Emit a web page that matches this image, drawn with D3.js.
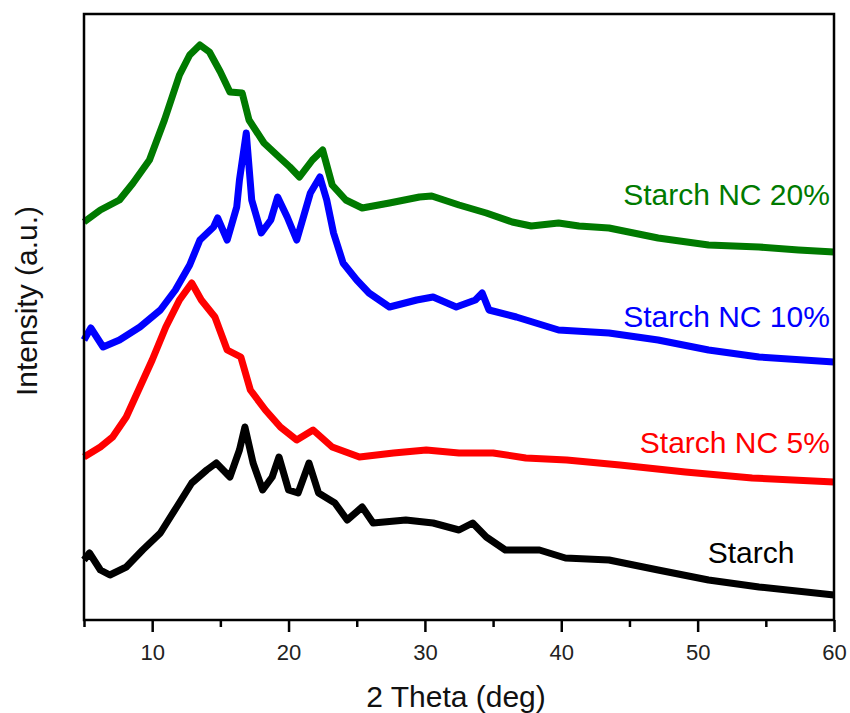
<!DOCTYPE html>
<html>
<head>
<meta charset="utf-8">
<script src="https://cdn.jsdelivr.net/npm/d3@7"></script>
<style>
    body { margin: 0; background: #fff; }
    svg { font-family: Arial, "Liberation Sans", sans-serif; }
</style>
</head>
<body>
<div id="chart"></div>
<script>
// 2 theta (deg) and intensity (a.u.).
const starch = [
    [5.0, 62], [5.4, 69], [6.2, 52], [6.9, 47], [8.1, 55], [9.3, 72],
    [10.6, 89], [11.8, 115], [12.9, 139], [14.0, 152], [14.7, 159],
    [15.7, 145], [16.4, 172], [16.8, 195], [17.4, 159], [18.1, 132],
    [18.8, 145], [19.3, 165], [20.0, 132], [20.7, 129], [21.5, 159],
    [22.2, 129], [23.4, 119], [24.3, 102], [25.4, 115], [26.2, 99],
    [28.6, 102], [30.6, 99], [32.5, 92], [33.5, 99], [34.5, 85],
    [35.9, 72], [38.4, 72], [40.3, 64], [43.5, 62], [47.1, 52],
    [50.8, 42], [54.5, 35], [60.0, 27]
];

const nc5 = [
    [5.0, 165], [6.2, 175], [7.1, 185], [8.1, 205], [9.0, 232], [10.0, 262],
    [11.0, 295], [12.0, 322], [12.9, 339], [13.6, 322], [14.6, 305],
    [15.5, 272], [16.5, 265], [17.2, 232], [18.3, 212], [19.4, 195],
    [20.6, 182], [21.8, 192], [23.2, 175], [25.2, 165], [27.7, 169],
    [30.1, 172], [32.5, 169], [35.0, 169], [37.4, 164], [40.4, 162],
    [44.3, 157], [49.1, 150], [54.0, 144], [60.0, 140]
];

const nc10 = [
    [5.0, 282], [5.5, 294], [6.4, 275], [7.6, 282], [9.1, 295], [10.6, 312],
    [11.7, 332], [12.75, 357], [13.5, 382], [14.5, 395], [14.8, 404],
    [15.5, 382], [16.2, 415], [16.4, 442], [16.9, 489], [17.3, 422],
    [18.0, 389], [18.7, 402], [19.2, 425], [19.9, 405], [20.6, 382],
    [21.6, 429], [22.3, 445], [22.8, 422], [23.3, 389], [24.0, 359],
    [25.0, 342], [25.9, 329], [27.4, 315], [29.4, 322], [30.6, 325],
    [32.3, 315], [33.7, 322], [34.2, 329], [34.7, 312], [36.7, 305],
    [39.8, 292], [43.5, 289], [47.1, 282], [50.8, 272], [54.5, 265],
    [60.0, 260]
];

const nc20 = [
    [5.0, 400], [6.2, 412], [7.6, 422], [8.6, 439], [9.8, 462], [10.9, 502],
    [12.0, 547], [12.75, 567], [13.5, 577], [14.2, 570], [15.0, 550],
    [15.7, 530], [16.6, 529], [17.1, 502], [18.2, 479], [19.3, 465],
    [20.1, 455], [20.8, 445], [21.75, 462], [22.5, 472], [23.2, 437],
    [24.2, 422], [25.4, 414], [27.4, 419], [29.6, 425], [30.5, 426],
    [32.5, 417], [34.5, 409], [36.4, 400], [37.8, 396], [39.8, 399],
    [41.3, 396], [43.5, 394], [47.1, 384], [50.8, 377], [54.5, 375],
    [57.4, 372], [60.0, 370]
];

const seriesNames = ["Starch", "Starch NC 5%", "Starch NC 10%", "Starch NC 20%"];
const seriesColors = ["#000000", "#ff0000", "#0000ff", "#007a00"];
const xTicks = [10, 20, 30, 40, 50, 60];
const xMinorTicks = [5, 15, 25, 35, 45, 55];

// Label anchors (2 theta, intensity) beside the tail of each curve.
const labelAnchors = [[57.1, 59], [59.7, 169], [59.7, 295], [59.7, 417]];

function drawChart() {
    /*
    Draws the stacked XRD patterns into #chart.
    */

    let width = 850;
    let height = 713;
    let left = 84, right = 834, top = 14, bottom = 620;

    let svg = d3.select("#chart").append("svg")
        .attr("width", width)
        .attr("height", height);

    let x = d3.scaleLinear().domain([5, 60]).range([left, right]);
    let y = d3.scaleLinear().domain([2, 608]).range([bottom, top]);

    let line = d3.line()
        .x(function(d) { return x(d[0]); })
        .y(function(d) { return y(d[1]); });

    let allSeries = [starch, nc5, nc10, nc20];

    // Curves, drawn thick to stand in for the noisy scan band.
    svg.append("g").selectAll("path")
        .data(allSeries)
        .join("path")
        .attr("d", line)
        .attr("fill", "none")
        .attr("stroke", function(d, i) { return seriesColors[i]; })
        .attr("stroke-width", 7)
        .attr("stroke-linejoin", "round");

    // Frame.
    svg.append("rect")
        .attr("x", left)
        .attr("y", top)
        .attr("width", right - left)
        .attr("height", bottom - top)
        .attr("fill", "none")
        .attr("stroke", "#000")
        .attr("stroke-width", 2.5);

    // Bottom axis with major ticks and labels.
    let xAxis = svg.append("g")
        .attr("transform", "translate(0," + bottom + ")")
        .call(d3.axisBottom(x).tickValues(xTicks).tickSize(12).tickPadding(12));
    xAxis.select(".domain").remove();
    xAxis.selectAll(".tick line").attr("stroke-width", 2.5);
    xAxis.selectAll(".tick text")
        .attr("font-size", 22)
        .attr("fill", "#222")
        .attr("font-family", "Arial, 'Liberation Sans', sans-serif");

    // Minor ticks.
    let minor = svg.append("g")
        .attr("transform", "translate(0," + bottom + ")")
        .call(d3.axisBottom(x).tickValues(xMinorTicks).tickSize(7).tickFormat(""));
    minor.select(".domain").remove();
    minor.selectAll(".tick line").attr("stroke-width", 2.5);

    // Axis titles.
    svg.append("text")
        .attr("x", (left + right) / 2 - 3)
        .attr("y", 707)
        .attr("text-anchor", "middle")
        .attr("font-size", 30)
        .attr("fill", "#111")
        .text("2 Theta (deg)");

    svg.append("text")
        .attr("transform", "translate(37," + ((top + bottom) / 2 - 16) + ") rotate(-90)")
        .attr("text-anchor", "middle")
        .attr("font-size", 30)
        .attr("fill", "#111")
        .text("Intensity (a.u.)");

    // Series labels.
    svg.append("g").selectAll("text")
        .data(labelAnchors)
        .join("text")
        .attr("x", function(d) { return x(d[0]); })
        .attr("y", function(d) { return y(d[1]); })
        .attr("text-anchor", "end")
        .attr("font-size", 30)
        .attr("fill", function(d, i) { return seriesColors[i]; })
        .text(function(d, i) { return seriesNames[i]; });
}

drawChart();
</script>
</body>
</html>
